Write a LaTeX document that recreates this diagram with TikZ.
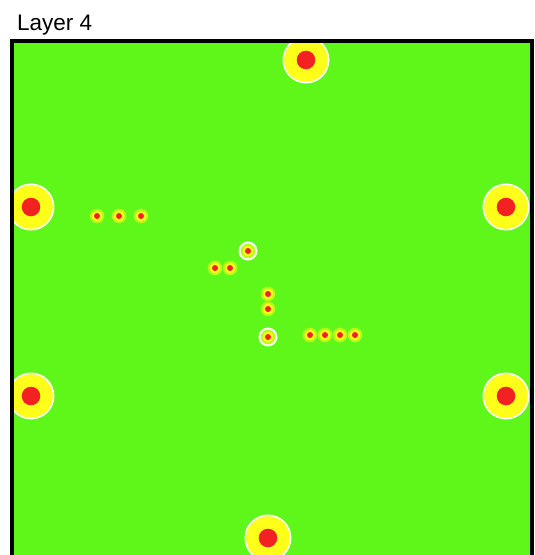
\documentclass[tikz,border=0pt]{standalone}
\usepackage{fontspec}
\setmainfont{Liberation Sans}
\usepackage{tikz}
\usetikzlibrary{positioning}
\definecolor{boardgreen}{HTML}{5FF719}
\definecolor{padyellow}{HTML}{FFFF1A}
\definecolor{padred}{HTML}{F32222}

\begin{document}
\begin{tikzpicture}
	[
	x = 1pt, y = -1pt,
	ring/.style = {fill=white},
	halo/.style = {fill=padyellow!55!boardgreen},
	core/.style = {fill=padyellow},
	hole/.style = {fill=padred}
	]

	\useasboundingbox (0,0) rectangle (535,555);

	\node[anchor=base west, inner sep=0pt, font=\fontsize{22.5}{27}\selectfont] (title) at (17,30) {Layer 4};

	% board
	\fill[boardgreen] (12,41) rectangle (532,570);

	\begin{scope}
	\clip (14,43) rectangle (530,570);

	% large pads
	\coordinate (@top) at (306,60);
	\coordinate (@lt) at (31,207);
	\coordinate (@rt) at (506,207);
	\coordinate (@lb) at (31,396);
	\coordinate (@rb) at (506,396);
	\coordinate (@bot) at (268,538);

	\foreach \p in {@top,@lt,@rt,@lb,@rb,@bot}
	{
		\fill[ring] (\p) circle (23.5);
		\fill[core] (\p) circle (21.8);
		\fill[hole] (\p) circle (9.3);
	}

	% small vias with ring
	\coordinate (@a) at (248,251);
	\coordinate (@b) at (268,337);
	\foreach \p in {@a,@b}
		\fill[ring] (\p) circle (9.5);

	% small vias
	\foreach \p in {(97,216),(119,216),(141,216),(248,251),(215,268),(230,268),(268,294),(268,309),(268,337),(310,335),(325,335),(340,335),(355,335)}
	{
		\fill[halo] \p circle (7.3);
		\fill[core] \p circle (5.3);
		\fill[hole] \p circle (3);
	}
	\end{scope}

	% frame
	\draw[line width=4pt] (12,570) |- (532,41) -- (532,570);

\end{tikzpicture}
\end{document}
